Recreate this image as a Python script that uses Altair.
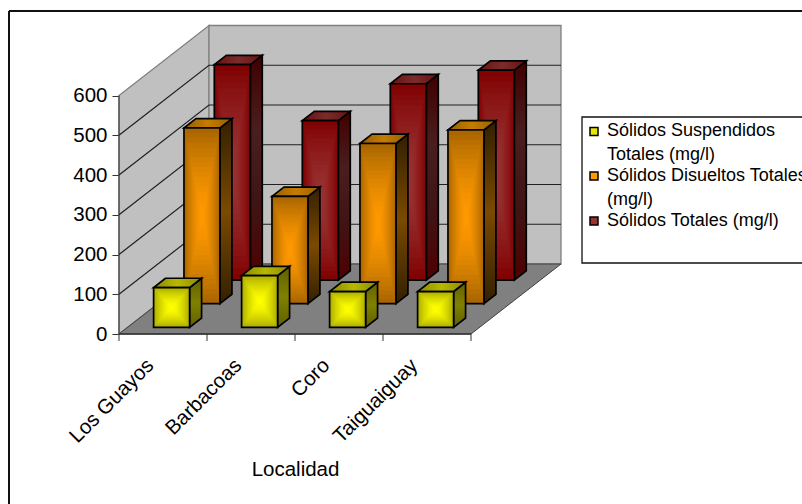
import altair as alt
import pandas as pd

# Values per locality, mg/l
localidades = ["Los Guayos", "Barbacoas", "Coro", "Taiguaiguay"]
suspendidos = [100, 130, 90, 90]
disueltos = [442, 270, 403, 437]
totales = [542, 401, 494, 528]
y_ticks = [0, 100, 200, 300, 400, 500, 600]

legend_lines = ["Sólidos Suspendidos", "Totales (mg/l)", "Sólidos Disueltos Totales", "(mg/l)", "Sólidos Totales (mg/l)"]
legend_line_y = [131, 155, 176, 200, 221]
legend_sym_y = [131.5, 176, 221]
legend_sym_colors = ["#e6e600", "#ff9900", "#993333"]

# Oblique projection: depth runs from the front plane (0) to the back wall (1)
N_CAT = len(localidades)
Y_MAX = 600
DEPTH_X = 90 / 88          # category units of sideways shift across the full depth
DEPTH_Y = 70 / 0.3975      # value units of upward shift across the full depth
BAR_W = 36 / 88
BAR_D = 0.133
W, H = 442, 309
AXIS_FONT = "Liberation Sans"
AXIS_SIZE = 20.5

sx = alt.Scale(domain=[0, W / 88], range=[0, W], nice=False, zero=False)
sy = alt.Scale(domain=[0, H / 0.3975], range=[H, 0], nice=False, zero=False)

x_axis = alt.Axis(
    values=[i + 0.5 for i in range(N_CAT)],
    labelExpr="['Los Guayos','Barbacoas','Coro','Taiguaiguay'][floor(datum.value)]",
    domain=False, grid=False, ticks=False,
    labelAngle=315, labelAlign="right", labelBaseline="middle", labelOffset=-13, labelPadding=28,
    labelFont=AXIS_FONT, labelFontSize=AXIS_SIZE, labelColor="#000000", labelOverlap=False, labelBound=False,
    title="Localidad", titleFont=AXIS_FONT, titleFontSize=AXIS_SIZE, titleFontWeight="normal",
    titleColor="#000000", titleX=176, titleY=135, titleBaseline="middle",
)
y_axis_def = alt.Axis(
    values=y_ticks, domain=False, grid=False, title=None, tickSize=7, tickColor="#333333",
    labelFont=AXIS_FONT, labelFontSize=AXIS_SIZE, labelColor="#000000", labelPadding=5,
)

X = alt.X("x:Q", scale=sx, axis=x_axis)
Y = alt.Y("y:Q", scale=sy, axis=y_axis_def)
X2 = alt.X2("x2:Q")
Y2 = alt.Y2("y2:Q")


def grad(stops, horizontal=False):
    n = len(stops) - 1
    kw = dict(x1=0, x2=1, y1=0, y2=0) if horizontal else dict(x1=0, x2=0, y1=0, y2=1)
    return alt.LinearGradient(
        gradient="linear",
        stops=[alt.GradientStop(color=c, offset=i / n) for i, c in enumerate(stops)],
        **kw,
    )


def mix(a, b, t):
    pa = [int(a[i:i + 2], 16) for i in (1, 3, 5)]
    pb = [int(b[i:i + 2], 16) for i in (1, 3, 5)]
    return "#" + "".join(f"{round(p + (q - p) * t):02x}" for p, q in zip(pa, pb))


def bar_layers(values, front, edge, centre, side_stops, top_stops):
    """Side, top and front of one series' boxes, from the values alone."""
    side, top, faces, outline = [], [], [], []
    dx0, dy0 = front * DEPTH_X, front * DEPTH_Y
    dx1, dy1 = (front + BAR_D) * DEPTH_X, (front + BAR_D) * DEPTH_Y
    for i, v in enumerate(values):
        left = i + 0.5 - BAR_W / 2 + dx0
        right = left + BAR_W
        shift = dx1 - dx0
        side += [
            {"b": i, "x": right, "y": dy0, "y2": v + dy0},
            {"b": i, "x": right + shift, "y": dy1, "y2": v + dy1},
        ]
        top += [
            {"b": i, "y": v + dy0, "x": left, "x2": right},
            {"b": i, "y": v + dy1, "x": left + shift, "x2": right + shift},
        ]
        outline.append({"x": left, "x2": right, "y": dy0, "y2": v + dy0})
        # Front face: nested rectangles brightening towards the middle
        steps = 18
        for k in range(steps):
            t = k / steps
            eased = 1 - (1 - (k + 0.5) / steps) ** 1.5
            faces.append({
                "x": left + t * BAR_W / 2,
                "x2": right - t * BAR_W / 2,
                "y": dy0 + t * v / 2,
                "y2": v + dy0 - t * v / 2,
                "c": mix(edge, centre, eased),
            })
    stroke = dict(stroke="#000000", strokeWidth=1.7)
    return [
        alt.Chart(pd.DataFrame(side)).mark_area(fill=grad(side_stops), **stroke).encode(X, Y, Y2, detail="b:N"),
        alt.Chart(pd.DataFrame(top)).mark_area(orient="horizontal", fill=grad(top_stops, True), **stroke).encode(X, X2, Y, detail="b:N"),
        alt.Chart(pd.DataFrame(faces)).mark_rect().encode(X, X2, Y, Y2, color=alt.Color("c:N", scale=None)),
        alt.Chart(pd.DataFrame(outline)).mark_rect(filled=False, **stroke).encode(X, X2, Y, Y2),
    ]


blank = pd.DataFrame({"k": [0]})

# Outer frame, running off the right and bottom of the page
frame = [
    alt.Chart(blank).mark_rule(color="#111111", strokeWidth=2).encode(
        x=alt.value(-110), x2=alt.value(700), y=alt.value(-14)),
    alt.Chart(blank).mark_rule(color="#111111", strokeWidth=2).encode(
        x=alt.value(-110), y=alt.value(-14), y2=alt.value(500)),
]

# Walls and floor
left_wall = alt.Chart(pd.DataFrame([
    {"x": 0, "y": 0, "y2": Y_MAX},
    {"x": DEPTH_X, "y": DEPTH_Y, "y2": Y_MAX + DEPTH_Y},
])).mark_area(fill="#c0c0c0", stroke="#808080", strokeWidth=1.3).encode(X, Y, Y2)
back_wall = alt.Chart(pd.DataFrame([
    {"x": DEPTH_X, "x2": N_CAT + DEPTH_X, "y": DEPTH_Y, "y2": Y_MAX + DEPTH_Y},
])).mark_rect(fill="#c0c0c0", stroke="#808080", strokeWidth=1.3).encode(X, X2, Y, Y2)
floor = alt.Chart(pd.DataFrame([
    {"y": 0, "x": 0, "x2": N_CAT},
    {"y": DEPTH_Y, "x": DEPTH_X, "x2": N_CAT + DEPTH_X},
])).mark_area(orient="horizontal", fill="#808080", stroke="#404040", strokeWidth=1).encode(X, X2, Y)

grid_rows = []
for v in y_ticks[1:-1]:
    grid_rows += [
        {"g": v, "o": 0, "x": 0, "y": v},
        {"g": v, "o": 1, "x": DEPTH_X, "y": v + DEPTH_Y},
        {"g": v, "o": 2, "x": N_CAT + DEPTH_X, "y": v + DEPTH_Y},
    ]
grid = alt.Chart(pd.DataFrame(grid_rows)).mark_line(color="#202020", strokeWidth=1.2).encode(
    X, Y, detail="g:N", order="o:Q")

red = bar_layers(totales, 0.77, "#800000", "#993333",
                 ["#400000", "#4a1e1e", "#401414", "#500000"],
                 ["#6a1010", "#7a2c2c", "#6a1010"])
orange = bar_layers(disueltos, 0.433, "#a66400", "#ff9900",
                    ["#332000", "#7a4a00", "#332000"],
                    ["#946000", "#c67c00", "#946000"])
yellow = bar_layers(suspendidos, 0.0956, "#aaaa00", "#ffff00",
                    ["#606000", "#808000", "#606000"],
                    ["#8a8a00", "#b8b800", "#8a8a00"])

# Axis lines on the front plane, with ticks between the categories
y_line = alt.Chart(pd.DataFrame({"x": [0], "y": [0], "y2": [Y_MAX]})).mark_rule(
    color="#333333", strokeWidth=1).encode(X, Y, Y2)
x_line = alt.Chart(pd.DataFrame({"x": [0], "x2": [N_CAT], "y": [0]})).mark_rule(
    color="#333333", strokeWidth=1.3).encode(X, X2, Y)
x_ticks = alt.Chart(pd.DataFrame({"x": list(range(N_CAT + 1))})).mark_rule(
    color="#333333", strokeWidth=1).encode(X, y=alt.value(H), y2=alt.value(H + 7))

# Key on the right
legend_box = alt.Chart(blank).mark_rect(fill="#ffffff", stroke="#111111", strokeWidth=1.3).encode(
    x=alt.value(582 - 119), x2=alt.value(760), y=alt.value(117 - 25), y2=alt.value(263 - 25))
legend_text = [
    alt.Chart(blank).mark_text(
        align="left", baseline="middle", font=AXIS_FONT, fontSize=18, color="#000000",
    ).encode(x=alt.value(607 - 119), y=alt.value(py - 25), text=alt.value(t))
    for t, py in zip(legend_lines, legend_line_y)
]
legend_syms = [
    alt.Chart(blank).mark_square(size=64, stroke="#000000", strokeWidth=1.5, opacity=1).encode(
        x=alt.value(594 - 119), y=alt.value(py - 25), fill=alt.value(c))
    for py, c in zip(legend_sym_y, legend_sym_colors)
]

chart = alt.layer(
    *frame, left_wall, back_wall, floor, grid, *red, *orange, *yellow,
    y_line, x_line, x_ticks, legend_box, *legend_text, *legend_syms,
).properties(
    width=W, height=H,
    padding={"left": 119, "top": 25, "right": 802 - 119 - W, "bottom": 504 - 25 - H},
    autosize=alt.AutoSizeParams(type="none"),
    background="#ffffff",
).configure_view(stroke=None)

chart.save("out.html", embed_options={"renderer": "svg", "actions": False})
